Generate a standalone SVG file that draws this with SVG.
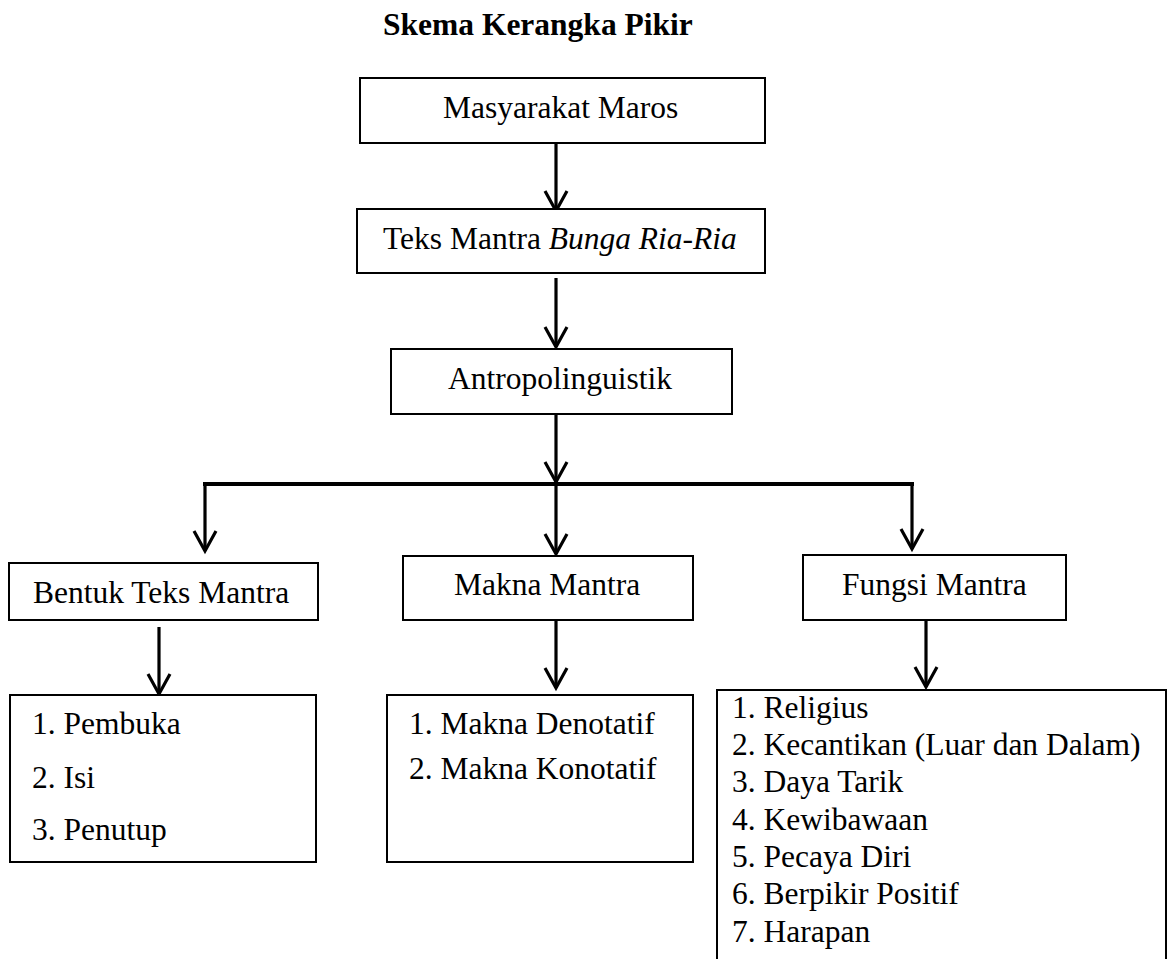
<svg xmlns="http://www.w3.org/2000/svg" width="1168" height="959" viewBox="0 0 1168 959">
<style>
.box{fill:#fff;stroke:#000;stroke-width:2}
.t{font-family:"Liberation Serif","Times New Roman",serif;font-size:31.5px;fill:#000}
.b{font-weight:bold}
.c{fill:none;stroke:#000;stroke-width:3.2}
.h{fill:none;stroke:#000;stroke-width:4}
</style>
<defs>
<marker id="ah" markerUnits="userSpaceOnUse" markerWidth="26" markerHeight="26" refX="22" refY="12" orient="auto" viewBox="0 0 26 24">
<path d="M2,1 L22,12 L2,23" fill="none" stroke="#000" stroke-width="3.2"/>
</marker>
</defs>
<rect width="1168" height="959" fill="#fff"/>
<text class="t b" x="383" y="35">Skema Kerangka Pikir</text>

<g id="connectors">
<line class="c" x1="556" y1="143" x2="556" y2="211" marker-end="url(#ah)"/>
<line class="c" x1="556" y1="278" x2="556" y2="347" marker-end="url(#ah)"/>
<line class="c" x1="556" y1="414" x2="556" y2="482" marker-end="url(#ah)"/>
<line class="h" x1="203" y1="484" x2="914" y2="484"/>
<line class="c" x1="205" y1="484" x2="205" y2="551" marker-end="url(#ah)"/>
<line class="c" x1="556" y1="486" x2="556" y2="554" marker-end="url(#ah)"/>
<line class="c" x1="912" y1="484" x2="912" y2="549" marker-end="url(#ah)"/>
<line class="c" x1="159" y1="627" x2="159" y2="694" marker-end="url(#ah)"/>
<line class="c" x1="556" y1="620" x2="556" y2="688" marker-end="url(#ah)"/>
<line class="c" x1="926" y1="620" x2="926" y2="687" marker-end="url(#ah)"/>
</g>

<g id="masyarakat">
<rect class="box" x="360" y="78" width="405" height="65"/>
<text class="t" x="443" y="118">Masyarakat Maros</text>
</g>
<g id="teks-mantra">
<rect class="box" x="357" y="209" width="408" height="64"/>
<text class="t" x="383" y="249">Teks Mantra <tspan font-style="italic">Bunga Ria-Ria</tspan></text>
</g>
<g id="antropolinguistik">
<rect class="box" x="391" y="349" width="341" height="65"/>
<text class="t" x="448" y="389">Antropolinguistik</text>
</g>
<g id="bentuk">
<rect class="box" x="9" y="563" width="309" height="57"/>
<text class="t" x="33" y="603">Bentuk Teks Mantra</text>
</g>
<g id="makna">
<rect class="box" x="403" y="556" width="290" height="64"/>
<text class="t" x="454" y="595">Makna Mantra</text>
</g>
<g id="fungsi">
<rect class="box" x="803" y="555" width="263" height="65"/>
<text class="t" x="842" y="595">Fungsi Mantra</text>
</g>
<g id="bentuk-list">
<rect class="box" x="10" y="695" width="306" height="167"/>
<text class="t" x="32" y="734">1. Pembuka</text>
<text class="t" x="32" y="788">2. Isi</text>
<text class="t" x="32" y="840">3. Penutup</text>
</g>
<g id="makna-list">
<rect class="box" x="387" y="695" width="306" height="167"/>
<text class="t" x="409" y="734">1. Makna Denotatif</text>
<text class="t" x="409" y="779">2. Makna Konotatif</text>
</g>
<g id="fungsi-list">
<rect class="box" x="717" y="690" width="449" height="290"/>
<text class="t" x="732" y="718">1. Religius</text>
<text class="t" x="732" y="755">2. Kecantikan (Luar dan Dalam)</text>
<text class="t" x="732" y="792">3. Daya Tarik</text>
<text class="t" x="732" y="830">4. Kewibawaan</text>
<text class="t" x="732" y="867">5. Pecaya Diri</text>
<text class="t" x="732" y="904">6. Berpikir Positif</text>
<text class="t" x="732" y="942">7. Harapan</text>
</g>
</svg>
